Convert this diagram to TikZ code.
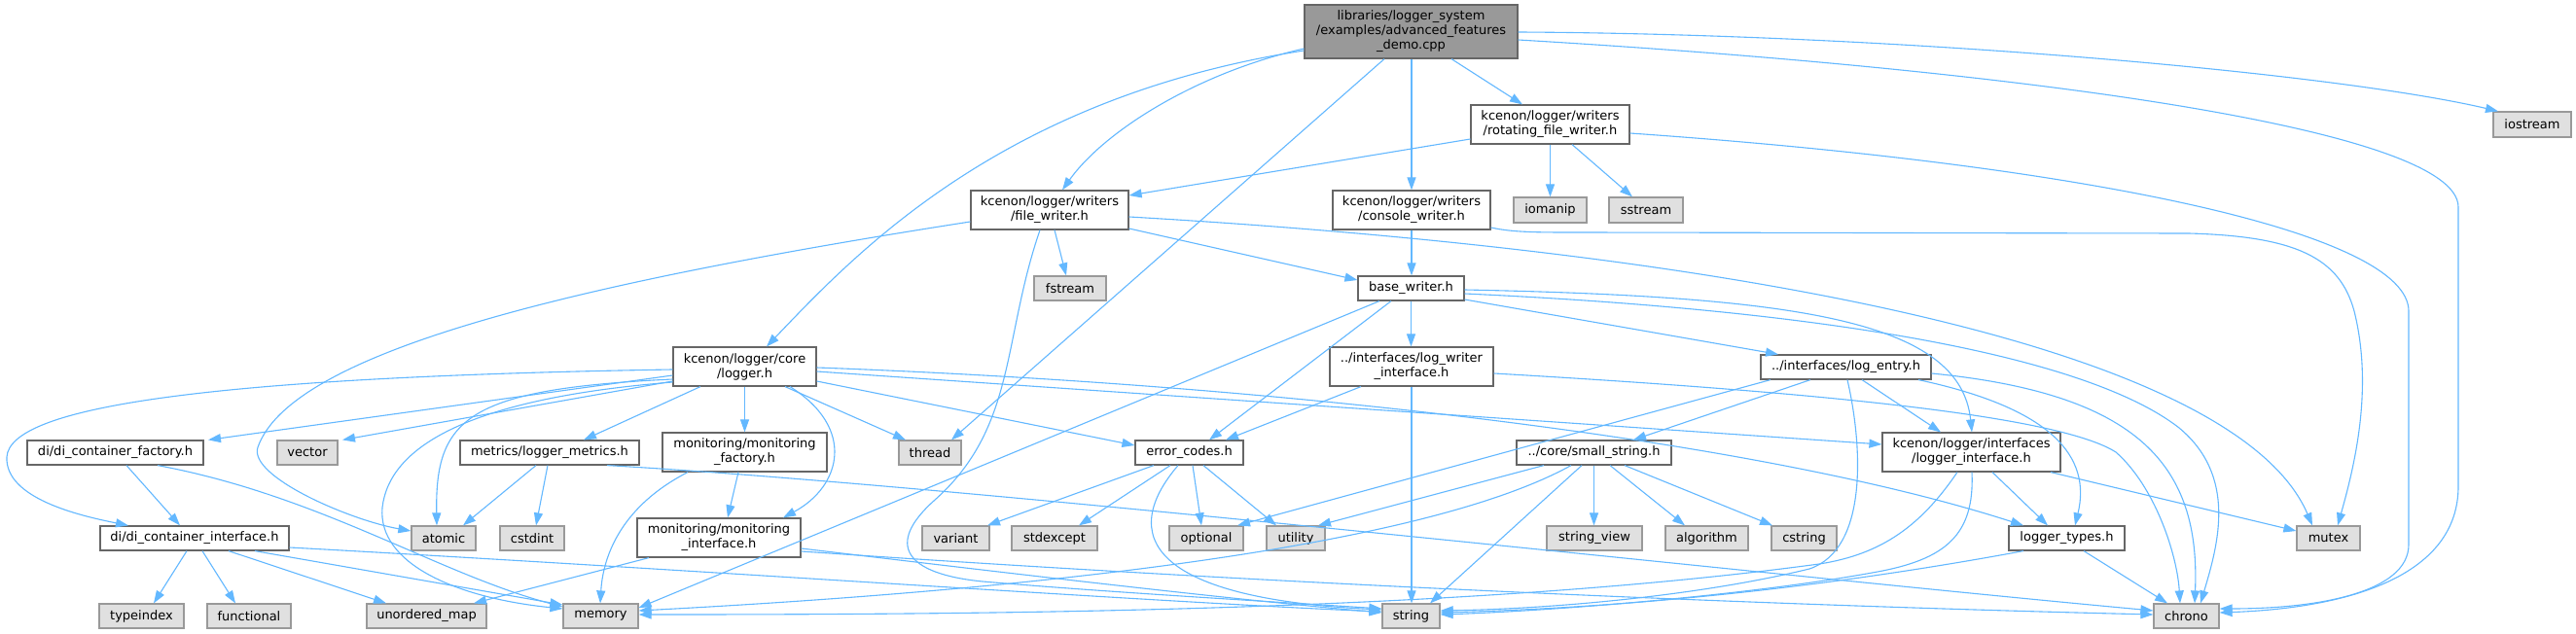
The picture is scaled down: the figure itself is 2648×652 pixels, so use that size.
\documentclass[tikz,border=0pt]{standalone}
\usepackage{fontspec}
\setmainfont{DejaVu Sans}
\usetikzlibrary{arrows.meta}
\definecolor{edgec}{HTML}{63B8FF}
\definecolor{bordc}{HTML}{666666}
\definecolor{gbord}{HTML}{999999}
\definecolor{gfill}{HTML}{E0E0E0}
\definecolor{mainfill}{HTML}{999999}
\newcommand\nodefont{\fontsize{13}{15}\selectfont}
\newcommand\mknode[7]{\node[#1, minimum width=#5pt, minimum height=#6pt] (#2) at (#3,#4) {#7};}
\tikzset{
  wbox/.style={draw=bordc, fill=white, line width=1.2pt, inner sep=0pt, align=center, font=\nodefont},
  gbox/.style={draw=gbord, fill=gfill, line width=1.2pt, inner sep=0pt, align=center, font=\nodefont},
  mbox/.style={draw=bordc, fill=mainfill, line width=1.2pt, inner sep=0pt, align=center, font=\nodefont},
  conn/.style={draw=edgec, line width=1.1pt, -{Triangle[length=13pt,width=9pt]}}
}
\begin{document}
\begin{tikzpicture}[x=1pt,y=-1pt]
\useasboundingbox[fill=white] (0,0) rectangle (2648,652);
\mknode{mbox}{main}{1450.5}{32.5}{219}{55}{libraries/logger\_system\\/examples/advanced\_features\\\_demo.cpp}
\mknode{wbox}{rotating}{1593.5}{128}{163}{40}{kcenon/logger/writers\\/rotating\_file\_writer.h}
\mknode{gbox}{iostream}{2603}{128}{80}{26}{iostream}
\mknode{wbox}{filew}{1079}{216}{162}{40}{kcenon/logger/writers\\/file\_writer.h}
\mknode{wbox}{console}{1451}{216}{162}{40}{kcenon/logger/writers\\/console\_writer.h}
\mknode{gbox}{iomanip}{1593.5}{216}{75}{26}{iomanip}
\mknode{gbox}{sstream}{1692}{216}{76}{26}{sstream}
\mknode{gbox}{fstream}{1100}{296.5}{74}{25}{fstream}
\mknode{wbox}{basew}{1450.5}{296.5}{109}{25}{base\_writer.h}
\mknode{wbox}{loggerh}{765.5}{377}{147}{40}{kcenon/logger/core\\/logger.h}
\mknode{wbox}{lwi}{1451}{377}{168}{40}{../interfaces/log\_writer\\\_interface.h}
\mknode{wbox}{logentry}{1897.5}{377.5}{175}{25}{../interfaces/log\_entry.h}
\mknode{wbox}{difac}{118.5}{465.5}{181}{25}{di/di\_container\_factory.h}
\mknode{gbox}{vector}{316}{465.5}{62}{25}{vector}
\mknode{wbox}{metrics}{565}{465.5}{184}{25}{metrics/logger\_metrics.h}
\mknode{wbox}{monfac}{765.5}{465}{169}{40}{monitoring/monitoring\\\_factory.h}
\mknode{gbox}{thread}{956}{465.5}{64}{25}{thread}
\mknode{wbox}{errc}{1222.5}{465.5}{111}{25}{error\_codes.h}
\mknode{wbox}{smalls}{1638.5}{465.5}{159}{25}{../core/small\_string.h}
\mknode{wbox}{loggeri}{2026.5}{465}{183}{40}{kcenon/logger/interfaces\\/logger\_interface.h}
\mknode{wbox}{dii}{200}{553.5}{194}{25}{di/di\_container\_interface.h}
\mknode{gbox}{atomic}{456}{553.5}{66}{25}{atomic}
\mknode{gbox}{cstdint}{547}{553.5}{66}{25}{cstdint}
\mknode{wbox}{moni}{739}{553}{168}{40}{monitoring/monitoring\\\_interface.h}
\mknode{gbox}{variant}{982.5}{553.5}{69}{25}{variant}
\mknode{gbox}{stdexcept}{1084}{553.5}{88}{25}{stdexcept}
\mknode{gbox}{optional}{1240}{553.5}{76}{25}{optional}
\mknode{gbox}{utility}{1332}{553.5}{60}{25}{utility}
\mknode{gbox}{stringview}{1639}{553.5}{98}{25}{string\_view}
\mknode{gbox}{algorithm}{1754.5}{553.5}{85}{25}{algorithm}
\mknode{gbox}{cstring}{1854.5}{553.5}{67}{25}{cstring}
\mknode{wbox}{ltypes}{2124.5}{553.5}{119}{25}{logger\_types.h}
\mknode{gbox}{mutex}{2393.5}{553.5}{65}{25}{mutex}
\mknode{gbox}{typeindex}{145.5}{633.5}{87}{25}{typeindex}
\mknode{gbox}{functional}{256}{633.5}{86}{25}{functional}
\mknode{gbox}{umap}{438.5}{633.5}{123}{25}{unordered\_map}
\mknode{gbox}{memory}{617.5}{633.5}{77}{25}{memory}
\mknode{gbox}{string}{1450.5}{633.5}{59}{25}{string}
\mknode{gbox}{chrono}{2247.5}{633.5}{67}{25}{chrono}
% main
\draw[conn] (main.south -| 1492,0) -- (rotating.north -| 1565,0);
\draw[conn] (main.south -| 1451,0) -- (console.north);
\draw[conn] (main.west |- 0,50) .. controls (1230,75) and (1135,135) .. (filew.north -| 1092,0);
\draw[conn] (main.west |- 0,52) .. controls (1030,100) and (880,260) .. (loggerh.north -| 788,0);
\draw[conn] (main.south -| 1423,0) -- (thread.north -| 978,0);
\draw[conn] (main.east |- 0,33) .. controls (1950,35) and (2400,75) .. (iostream.north -| 2568,0);
\draw[conn] (main.east |- 0,41) .. controls (2050,70) and (2527,130) .. (2527,213) -- (2527,500) .. controls (2527,590) and (2420,625) .. (chrono.east |- 0,630);
% rotating
\draw[conn] (rotating.east |- 0,137) .. controls (2150,170) and (2476,240) .. (2476,320) -- (2476,560) .. controls (2476,610) and (2380,626) .. (chrono.east |- 0,626);
\draw[conn] (rotating.west |- 0,143) -- (filew.east |- 0,201);
\draw[conn] (rotating.south) -- (iomanip.north);
\draw[conn] (rotating.south -| 1616,0) -- (sstream.north -| 1678,0);
% console
\draw[conn] (console.south) -- (basew.north -| console.south);
\draw[conn] (console.east |- 0,234) .. controls (1555,239) and (1580,239) .. (1620,239) -- (2250,240) .. controls (2360,243) and (2405,265) .. (2420,320) .. controls (2440,400) and (2420,480) .. (mutex.north -| 2403,0);
% file writer
\draw[conn] (filew.south -| 1084,0) -- (fstream.north -| 1096,0);
\draw[conn] (filew.east |- 0,235) -- (basew.west |- 0,288);
\draw[conn] (filew.east |- 0,223) .. controls (1800,260) and (2300,360) .. (mutex.north -| 2377,0);
\draw[conn] (filew.west |- 0,228) .. controls (600,290) and (300,360) .. (265,460) .. controls (255,490) and (360,535) .. (atomic.west |- 0,546);
\draw[conn] (filew.south -| 1069,0) .. controls (1030,350) and (1045,440) .. (960,515) .. controls (910,560) and (930,590) .. (1010,598) .. controls (1150,610) and (1330,620) .. (string.west |- 0,626);
% base writer
\draw[conn] (basew.south) -- (lwi.north -| basew.south);
\draw[conn] (basew.south -| 1430,0) -- (errc.north -| 1243,0);
\draw[conn] (basew.south -| 1418,0) -- (memory.east |- 0,625);
\draw[conn] (basew.east |- 0,308) -- (logentry.north -| 1828,0);
\draw[conn] (basew.east |- 0,298) .. controls (1850,305) and (2015,330) .. (loggeri.north -| 2027,0);
\draw[conn] (basew.east |- 0,302) .. controls (1900,320) and (2150,370) .. (2240,440) .. controls (2300,490) and (2280,560) .. (chrono.north -| 2262,0);
% log writer interface
\draw[conn] (lwi.south -| 1399,0) -- (errc.north -| 1260,0);
\draw[conn] (lwi.south) -- (string.north -| lwi.south);
\draw[conn] (lwi.east |- 0,384) .. controls (1900,405) and (2120,430) .. (2175,465) .. controls (2215,500) and (2238,570) .. (chrono.north -| 2241,0);
% log entry
\draw[conn] (logentry.south -| 1861,0) -- (smalls.north -| 1679,0);
\draw[conn] (logentry.south -| 1820,0) -- (optional.north -| 1272,0);
\draw[conn] (logentry.south -| 1914,0) -- (loggeri.north -| 1995,0);
\draw[conn] (logentry.south -| 1972,0) .. controls (2110,420) and (2150,470) .. (ltypes.north -| 2133,0);
\draw[conn] (logentry.east |- 0,384) .. controls (2200,405) and (2262,480) .. (chrono.north -| 2256,0);
\draw[conn] (logentry.south -| 1899,0) .. controls (1915,460) and (1920,565) .. (1860,585) .. controls (1750,612) and (1600,626) .. (string.east |- 0,628);
% logger interface
\draw[conn] (loggeri.south -| 2048,0) -- (ltypes.north -| 2105,0);
\draw[conn] (loggeri.south -| 2108,0) -- (mutex.west |- 0,546);
\draw[conn] (loggeri.south -| 2027,0) .. controls (2030,550) and (2000,575) .. (1930,588) .. controls (1800,612) and (1600,628) .. (string.east |- 0,632);
\draw[conn] (loggeri.south -| 2012,0) .. controls (1975,540) and (1935,570) .. (1870,580) .. controls (1500,630) and (1000,632) .. (memory.east |- 0,632);
% logger types
\draw[conn] (ltypes.south -| 2080,0) .. controls (1900,600) and (1700,624) .. (string.east |- 0,630);
\draw[conn] (ltypes.south -| 2142,0) -- (chrono.north -| 2228,0);
% small string
\draw[conn] (smalls.south -| 1587,0) -- (utility.north -| 1355,0);
\draw[conn] (smalls.south -| 1615,0) .. controls (1450,570) and (1000,610) .. (memory.east |- 0,628);
\draw[conn] (smalls.south -| 1626,0) -- (string.north -| 1470,0);
\draw[conn] (smalls.south) -- (stringview.north -| smalls.south);
\draw[conn] (smalls.south -| 1655,0) -- (algorithm.north -| 1732,0);
\draw[conn] (smalls.south -| 1670,0) -- (cstring.north -| 1822,0);
% error codes
\draw[conn] (errc.south -| 1186,0) -- (variant.north -| 1015,0);
\draw[conn] (errc.south -| 1203,0) -- (stdexcept.north -| 1109,0);
\draw[conn] (errc.south -| 1226,0) -- (optional.north -| 1235,0);
\draw[conn] (errc.south -| 1237,0) -- (utility.north -| 1312,0);
\draw[conn] (errc.south -| 1211,0) .. controls (1150,550) and (1180,615) .. (string.west |- 0,627);
% logger.h
\draw[conn] (loggerh.south) -- (monfac.north);
\draw[conn] (loggerh.south -| 807,0) -- (thread.north -| 931,0);
\draw[conn] (loggerh.east |- 0,392) -- (errc.west |- 0,458);
\draw[conn] (loggerh.south -| 812,0) .. controls (880,440) and (865,500) .. (moni.north -| 805,0);
\draw[conn] (loggerh.east |- 0,382) -- (loggeri.west |- 0,457);
\draw[conn] (loggerh.east |- 0,378) .. controls (1300,395) and (1800,450) .. (ltypes.north -| 2080,0);
\draw[conn] (loggerh.south -| 720,0) -- (metrics.north -| 600,0);
\draw[conn] (loggerh.west |- 0,392) -- (vector.north -| 352,0);
\draw[conn] (loggerh.west |- 0,386) -- (difac.north -| 214,0);
\draw[conn] (loggerh.west |- 0,390) .. controls (480,400) and (447,430) .. (atomic.north -| 449,0);
\draw[conn] (loggerh.west |- 0,393) .. controls (480,410) and (400,460) .. (393,522) .. controls (388,580) and (470,615) .. (memory.west |- 0,626);
\draw[conn] (loggerh.west |- 0,380) .. controls (200,388) and (10,420) .. (7,470) .. controls (5,512) and (80,530) .. (dii.north -| 132,0);
% metrics
\draw[conn] (metrics.south -| 551,0) -- (atomic.north -| 476,0);
\draw[conn] (metrics.south -| 563,0) -- (cstdint.north -| 551,0);
\draw[conn] (metrics.south -| 624,0) .. controls (1000,500) and (1800,590) .. (chrono.west |- 0,628);
% monitoring
\draw[conn] (monfac.south -| 759,0) -- (moni.north -| 748,0);
\draw[conn] (monfac.south -| 707,0) .. controls (640,520) and (620,570) .. (memory.north -| 617,0);
\draw[conn] (moni.south -| 667,0) -- (umap.north -| 487,0);
\draw[conn] (moni.east |- 0,564) .. controls (1000,585) and (1250,615) .. (string.west |- 0,630);
\draw[conn] (moni.east |- 0,567) .. controls (1300,600) and (1800,622) .. (chrono.west |- 0,632);
% di
\draw[conn] (difac.south -| 130,0) -- (dii.north -| 185,0);
\draw[conn] (difac.south -| 162,0) .. controls (330,510) and (450,590) .. (memory.west |- 0,624);
\draw[conn] (dii.south -| 192,0) -- (typeindex.north -| 158,0);
\draw[conn] (dii.south -| 208,0) -- (functional.north -| 242,0);
\draw[conn] (dii.south -| 235,0) -- (umap.north -| 397,0);
\draw[conn] (dii.south -| 262,0) -- (memory.west |- 0,622);
\draw[conn] (dii.east |- 0,563) .. controls (700,585) and (1200,620) .. (string.west |- 0,629);
\end{tikzpicture}
\end{document}
